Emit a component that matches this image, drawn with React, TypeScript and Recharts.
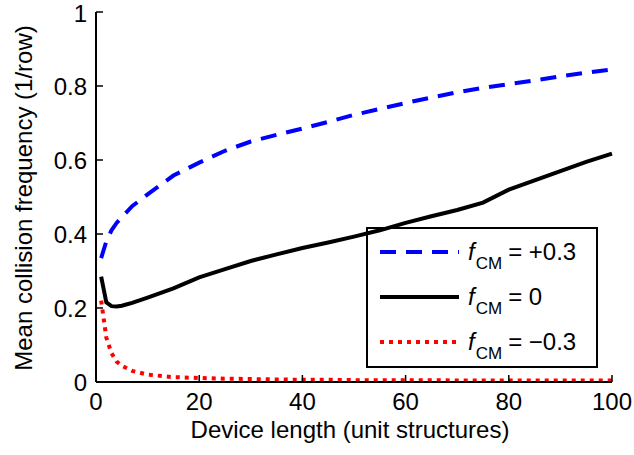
import { LineChart, Line, XAxis, YAxis } from 'recharts';

// device length (unit structures)
const lengths = [1, 2, 3, 4, 5, 7, 10, 15, 20, 25, 30, 35, 40, 45, 50, 55, 60, 65, 70, 75, 80, 85, 90, 95, 100];
// mean collision frequency for each f_CM
const fPlus = [0.335, 0.38, 0.41, 0.43, 0.445, 0.475, 0.507, 0.558, 0.593, 0.625, 0.65, 0.668, 0.685, 0.703, 0.722, 0.738, 0.754, 0.769, 0.783, 0.795, 0.805, 0.815, 0.826, 0.836, 0.845];
const fZero = [0.285, 0.215, 0.205, 0.204, 0.206, 0.214, 0.228, 0.253, 0.283, 0.305, 0.327, 0.345, 0.362, 0.377, 0.393, 0.41, 0.43, 0.448, 0.465, 0.485, 0.52, 0.545, 0.57, 0.595, 0.617];
const fMinus = [0.22, 0.12, 0.078, 0.055, 0.044, 0.03, 0.02, 0.013, 0.011, 0.009, 0.008, 0.007, 0.006, 0.006, 0.005, 0.005, 0.005, 0.005, 0.004, 0.004, 0.004, 0.004, 0.004, 0.004, 0.004];

const xTicks = [0, 20, 40, 60, 80, 100];
const yTicks = [0, 0.2, 0.4, 0.6, 0.8, 1];

const series = [
  { key: 'plus', label: '= +0.3', color: '#0000ff', dash: '16 10', values: fPlus },
  { key: 'zero', label: '= 0', color: '#000000', dash: undefined, values: fZero },
  { key: 'minus', label: '= \u22120.3', color: '#ff0000', dash: '4 5', values: fMinus },
];

const data = lengths.map((x, i) => ({
  x,
  plus: fPlus[i],
  zero: fZero[i],
  minus: fMinus[i],
}));

const font = '"Liberation Sans", Arial, sans-serif';
const tickStyle = { fill: '#000', fontSize: 24, fontFamily: font };

// legend box drawn inside the plot, like the MATLAB one
const LegendBox = () => (
  <svg x={366} y={227} width={232} height={141} overflow="visible">
    <rect x={1} y={1} width={230} height={139} fill="#fff" stroke="#000" strokeWidth={2} />
    {series.map((s, i) => {
      const cy = 25 + i * 45;
      return (
        <g key={s.key}>
          <line x1={14} x2={93} y1={cy} y2={cy} stroke={s.color} strokeWidth={4} strokeDasharray={s.dash} />
          <text x={102} y={cy + 8} fontFamily={font} fontSize={24} fill="#000">
            <tspan fontStyle="italic">f</tspan>
            <tspan fontSize={17} dy={9} dx={1}>CM</tspan>
            <tspan dy={-9} dx={6}>{s.label}</tspan>
          </text>
        </g>
      );
    })}
  </svg>
);

const YLabel = () => (
  <text
    x={23}
    y={198}
    transform="rotate(-90 23 198)"
    textAnchor="middle"
    dominantBaseline="central"
    fontFamily={font}
    fontSize={24}
    fill="#000"
  >
    Mean collision frequency (1/row)
  </text>
);

const XLabel = () => (
  <text x={350} y={429} textAnchor="middle" dominantBaseline="central" fontFamily={font} fontSize={24} fill="#000">
    Device length (unit structures)
  </text>
);

export default function App() {
  return (
    <div style={{ position: 'absolute', left: 0, top: 0, background: '#fff' }}>
      <LineChart width={634} height={455} data={data} margin={{ top: 12, right: 22, bottom: 0, left: 0 }}>
        <XAxis
          dataKey="x"
          type="number"
          domain={[0, 100]}
          ticks={xTicks}
          height={73}
          tickSize={-7}
          tickMargin={18}
          tick={tickStyle}
          axisLine={{ stroke: '#000', strokeWidth: 2 }}
          tickLine={{ stroke: '#000', strokeWidth: 1.5 }}
          label={<XLabel />}
        />
        <XAxis
          xAxisId="top"
          orientation="top"
          dataKey="x"
          type="number"
          domain={[0, 100]}
          ticks={xTicks}
          height={0}
          tickSize={-7}
          tick={false}
          axisLine={{ stroke: '#000', strokeWidth: 2 }}
          tickLine={{ stroke: '#000', strokeWidth: 1.5 }}
        />
        <YAxis
          type="number"
          domain={[0, 1]}
          ticks={yTicks}
          width={96}
          tickSize={-7}
          tickMargin={16}
          tick={tickStyle}
          axisLine={{ stroke: '#000', strokeWidth: 2 }}
          tickLine={{ stroke: '#000', strokeWidth: 1.5 }}
          label={<YLabel />}
        />
        <YAxis
          yAxisId="right"
          orientation="right"
          type="number"
          domain={[0, 1]}
          ticks={yTicks}
          width={0}
          tickSize={-7}
          tick={false}
          axisLine={{ stroke: '#000', strokeWidth: 2 }}
          tickLine={{ stroke: '#000', strokeWidth: 1.5 }}
        />
        {series.map((s) => (
          <Line
            key={s.key}
            type="linear"
            dataKey={s.key}
            stroke={s.color}
            strokeWidth={4}
            strokeDasharray={s.dash}
            dot={false}
            isAnimationActive={false}
          />
        ))}
        <LegendBox />
      </LineChart>
    </div>
  );
}
